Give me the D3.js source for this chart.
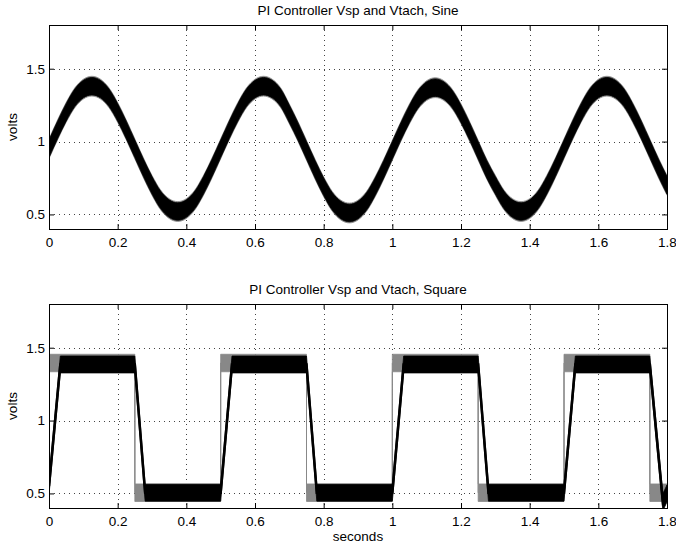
<!DOCTYPE html>
<html>
<head>
<meta charset="utf-8">
<script src="https://cdn.jsdelivr.net/npm/d3@7"></script>
<style>
  body { margin: 0; background: #fff; }
  svg text { font-family: "Liberation Sans", Arial, sans-serif; fill: #000; }
</style>
</head>
<body>
<svg id="chart" width="676" height="547"></svg>
<script>
// sine test: samples every 0.025 s, centre of the Vtach trace
const sineT = d3.range(73).map(i => i * 0.025);
const sineCentre = [
  0.95, 1.08, 1.20, 1.30, 1.36, 1.38, 1.36, 1.30, 1.20, 1.08, 0.95, 0.82, 0.70, 0.60, 0.54, 0.52, 0.54, 0.60, 0.70, 0.82,
  0.95, 1.08, 1.20, 1.30, 1.36, 1.38, 1.36, 1.30, 1.19, 1.07, 0.94, 0.81, 0.69, 0.59, 0.53, 0.51, 0.53, 0.59, 0.69, 0.81,
  0.94, 1.07, 1.19, 1.29, 1.35, 1.37, 1.35, 1.29, 1.19, 1.07, 0.94, 0.81, 0.70, 0.60, 0.54, 0.52, 0.54, 0.60, 0.70, 0.82,
  0.95, 1.08, 1.20, 1.30, 1.36, 1.38, 1.36, 1.30, 1.20, 1.08, 0.95, 0.82, 0.70
];
const sineNoiseVsp = 0.068;
const sineNoiseTach = 0.06;

// square test: corner points of setpoint and tach
const sqVspT = [0, 0.25, 0.25, 0.5, 0.5, 0.75, 0.75, 1.0, 1.0, 1.25, 1.25, 1.5, 1.5, 1.75, 1.75, 1.8];
const sqVsp  = [1.395, 1.395, 0.505, 0.505, 1.395, 1.395, 0.505, 0.505, 1.395, 1.395, 0.505, 0.505, 1.395, 1.395, 0.505, 0.505];
const sqTachT = [0, 0.033, 0.25, 0.28, 0.5, 0.533, 0.75, 0.78, 1.0, 1.033, 1.25, 1.28, 1.5, 1.533, 1.75, 1.788, 1.8];
const sqTach  = [0.55, 1.385, 1.385, 0.505, 0.505, 1.385, 1.385, 0.505, 0.505, 1.385, 1.385, 0.505, 0.505, 1.385, 1.385, 0.44, 0.50];
const sqNoiseVsp = 0.06;
const sqNoiseTach = 0.058;

const xTicks = [0, 0.2, 0.4, 0.6, 0.8, 1, 1.2, 1.4, 1.6, 1.8];
const yTicks = [0.5, 1, 1.5];
const xDomain = [0, 1.8];
const yDomain = [0.4, 1.8];

const layout = {
  left: 49,
  right: 667,
  fontSize: 13.5,
  panels: [
    { top: 25, bottom: 229, title: 'PI Controller Vsp and Vtach, Sine' },
    { top: 304, bottom: 508, title: 'PI Controller Vsp and Vtach, Square' }
  ]
};

const svg = d3.select('#chart');

const fmt = d => d3.format('~g')(d);

function drawPanel(p, idx, draw) {
  const x = d3.scaleLinear().domain(xDomain).range([layout.left, layout.right]);
  const y = d3.scaleLinear().domain(yDomain).range([p.bottom, p.top]);
  const g = svg.append('g').attr('class', 'panel-' + idx);

  g.append('clipPath').attr('id', 'clip' + idx)
    .append('rect')
    .attr('x', layout.left).attr('y', p.top)
    .attr('width', layout.right - layout.left).attr('height', p.bottom - p.top);

  // dotted grid
  const grid = g.append('g').attr('stroke', '#444').attr('stroke-width', 1).attr('stroke-dasharray', '1,4');
  grid.selectAll('.vg').data(xTicks.slice(1, -1)).enter().append('line')
    .attr('x1', d => Math.round(x(d)) + 0.5).attr('x2', d => Math.round(x(d)) + 0.5)
    .attr('y1', p.top).attr('y2', p.bottom);
  grid.selectAll('.hg').data(yTicks).enter().append('line')
    .attr('y1', d => Math.round(y(d)) + 0.5).attr('y2', d => Math.round(y(d)) + 0.5)
    .attr('x1', layout.left).attr('x2', layout.right);

  const plot = g.append('g').attr('clip-path', 'url(#clip' + idx + ')');
  draw(plot, x, y);

  // axes, ticks pointing in, on all four sides
  g.append('g').attr('transform', 'translate(0,' + p.bottom + ')')
    .call(d3.axisBottom(x).tickValues(xTicks).tickSize(-5).tickPadding(8).tickFormat(fmt))
    .call(a => a.select('.domain').remove());
  g.append('g').attr('transform', 'translate(0,' + p.top + ')')
    .call(d3.axisTop(x).tickValues(xTicks).tickSize(-5).tickFormat(''))
    .call(a => a.select('.domain').remove());
  g.append('g').attr('transform', 'translate(' + layout.left + ',0)')
    .call(d3.axisLeft(y).tickValues(yTicks).tickSize(-5).tickPadding(4).tickFormat(fmt))
    .call(a => a.select('.domain').remove());
  g.append('g').attr('transform', 'translate(' + layout.right + ',0)')
    .call(d3.axisRight(y).tickValues(yTicks).tickSize(-5).tickFormat(''))
    .call(a => a.select('.domain').remove());
  g.selectAll('.tick text').attr('font-size', layout.fontSize).attr('font-family', '"Liberation Sans", Arial, sans-serif');

  g.append('rect')
    .attr('x', layout.left + 0.5).attr('y', p.top + 0.5)
    .attr('width', layout.right - layout.left).attr('height', p.bottom - p.top)
    .attr('fill', 'none').attr('stroke', '#000').attr('stroke-width', 1);

  g.append('text')
    .attr('x', (layout.left + layout.right) / 2).attr('y', p.top - 10)
    .attr('text-anchor', 'middle').attr('font-size', layout.fontSize)
    .text(p.title);

  g.append('text')
    .attr('transform', 'translate(17,' + (p.top + p.bottom) / 2 + ') rotate(-90)')
    .attr('text-anchor', 'middle').attr('font-size', layout.fontSize)
    .text('volts');
}

function band(plot, x, y, ts, vs, noise, colour) {
  const area = d3.area()
    .x((d, i) => x(ts[i]))
    .y0(d => y(d - noise))
    .y1(d => y(d + noise))
    .curve(d3.curveMonotoneX);
  plot.append('path').datum(vs)
    .attr('d', area)
    .attr('fill', colour).attr('stroke', colour).attr('stroke-width', 0.8);
}

function trace(plot, x, y, ts, vs, colour, width) {
  const line = d3.line().x((d, i) => x(ts[i])).y(d => y(d));
  plot.append('path').datum(vs)
    .attr('d', line)
    .attr('fill', 'none').attr('stroke', colour).attr('stroke-width', width);
}

drawPanel(layout.panels[0], 0, (plot, x, y) => {
  band(plot, x, y, sineT, sineCentre, sineNoiseVsp, '#888');
  band(plot, x, y, sineT, sineCentre, sineNoiseTach, '#000');
});

drawPanel(layout.panels[1], 1, (plot, x, y) => {
  const stepArea = (ts, vs, noise, colour) => {
    const area = d3.area()
      .x((d, i) => x(ts[i]))
      .y0(d => y(d - noise))
      .y1(d => y(d + noise));
    plot.append('path').datum(vs).attr('d', area)
      .attr('fill', colour).attr('stroke', colour).attr('stroke-width', 0.8);
  };
  stepArea(sqVspT, sqVsp, sqNoiseVsp, '#888');
  trace(plot, x, y, sqVspT, sqVsp, '#888', 1);
  stepArea(sqTachT, sqTach, sqNoiseTach, '#000');
  trace(plot, x, y, sqTachT, sqTach, '#000', 2.5);
});

svg.append('text')
  .attr('x', (layout.left + layout.right) / 2).attr('y', 541)
  .attr('text-anchor', 'middle').attr('font-size', layout.fontSize)
  .text('seconds');
</script>
</body>
</html>
